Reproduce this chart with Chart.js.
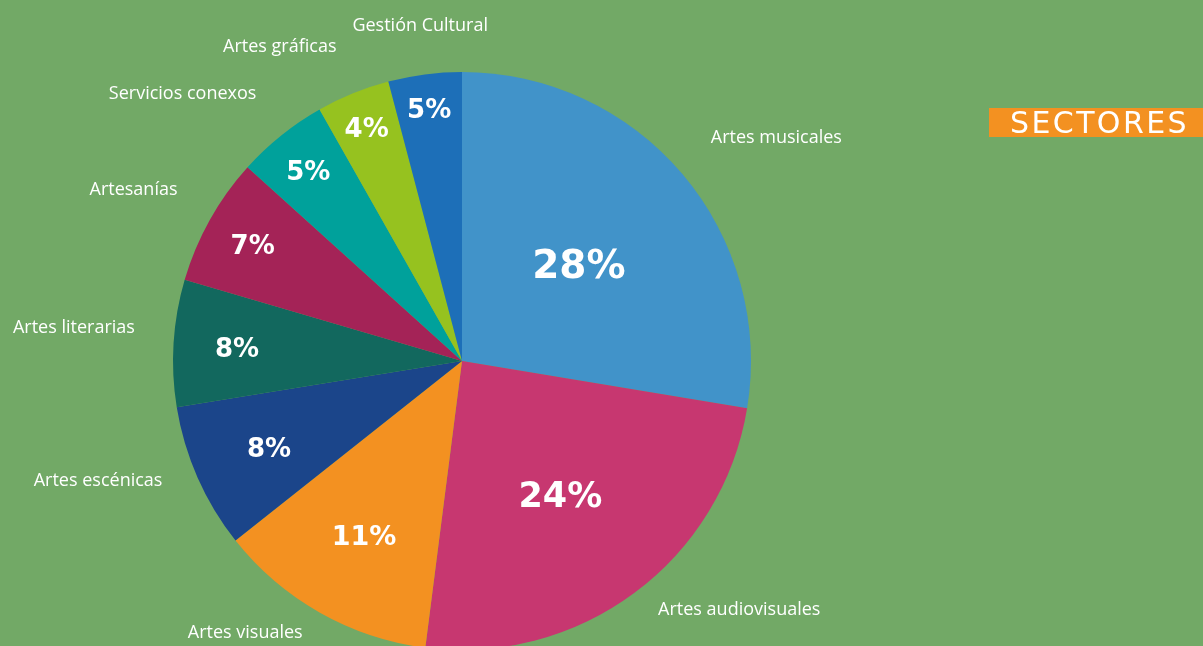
<!DOCTYPE html>
<html>
<head>
<meta charset="utf-8">
<script src="https://cdn.jsdelivr.net/npm/chart.js@4"></script>
<style>
    html, body { margin: 0; padding: 0; overflow: hidden; background: #72A966; }
    #wrap { position: relative; width: 1203px; height: 646px; overflow: hidden; }
    #sectores {
        position: absolute; left: 989px; top: 108px; width: 214px; height: 29px;
        background: #F39121; color: #fff; font-family: "DejaVu Sans", sans-serif;
        font-size: 30px; line-height: 30px; letter-spacing: 2.4px; box-sizing: border-box;
        padding-left: 21px; white-space: nowrap;
    }
</style>
</head>
<body>
<div id="wrap">
    <canvas id="sectoresChart" width="1203" height="662"></canvas>
    <div id="sectores">SECTORES</div>
</div>
<script>
// categorias y valores (porcentaje de cada sector)
var sectores = ['Artes musicales', 'Artes audiovisuales', 'Artes visuales', 'Artes escénicas',
    'Artes literarias', 'Artesanías', 'Servicios conexos', 'Artes gráficas', 'Gestión Cultural'];
var valores = [27.6, 24.4, 12.3, 8.1, 7.1, 7.15, 5.1, 4.1, 4.1];
var etiquetasPct = ['28%', '24%', '11%', '8%', '8%', '7%', '5%', '4%', '5%'];
var colores = ['#4193C9', '#C73770', '#F39121', '#1B458A', '#12685E', '#A42357', '#00A19B', '#96C21F', '#1D6FB8'];

// ubicacion de los textos (relativa al radio y al angulo medio de cada porcion)
var radioPct = [0.53, 0.57, 0.69, 0.73, 0.78, 0.83, 0.85, 0.875, 0.885];
var tamPct = [39, 35, 27, 26, 26, 26, 26, 26, 26];
var radioNombre = [1.336, 1.288, 1.201, 1.325, 1.348, 1.284, 1.339, 1.259, 1.173];
var giroNombre = [4.8, -11.5, 9.2, 5.7, 1.4, -1.5, -7.5, -7.9, 0.3];

var etiquetas = {
    id: 'etiquetas',
    afterDatasetsDraw: function(chart) {
        var ctx = chart.ctx;
        var meta = chart.getDatasetMeta(0);
        ctx.save();
        ctx.fillStyle = '#ffffff';
        ctx.textAlign = 'center';
        ctx.textBaseline = 'middle';
        meta.data.forEach(function(arc, i) {
            var p = arc.getProps(['x', 'y', 'startAngle', 'endAngle', 'outerRadius'], true);
            var mid = (p.startAngle + p.endAngle) / 2;
            var r = p.outerRadius * radioPct[i];
            ctx.font = 'bold ' + tamPct[i] + 'px "DejaVu Sans", sans-serif';
            ctx.fillText(etiquetasPct[i], p.x + r * Math.cos(mid), p.y + r * Math.sin(mid) + tamPct[i] * 0.14);

            var a = mid + giroNombre[i] * Math.PI / 180;
            var r2 = p.outerRadius * radioNombre[i];
            ctx.font = '18px "Open Sans", sans-serif';
            ctx.fillText(sectores[i], p.x + r2 * Math.cos(a), p.y + r2 * Math.sin(a) + 1);
        });
        ctx.restore();
    }
};

var ctx = document.getElementById('sectoresChart');
var pieGraph = new Chart(ctx, {
    type: 'pie',
    data: {
        labels: sectores,
        datasets: [{
            data: valores,
            backgroundColor: colores,
            borderWidth: 0
        }]
    },
    options: {
        responsive: false,
        animation: false,
        layout: { padding: { top: 72, left: 173, right: 452, bottom: 12 } },
        plugins: {
            legend: { display: false },
            tooltip: { enabled: false }
        }
    },
    plugins: [etiquetas]
});
</script>
</body>
</html>
